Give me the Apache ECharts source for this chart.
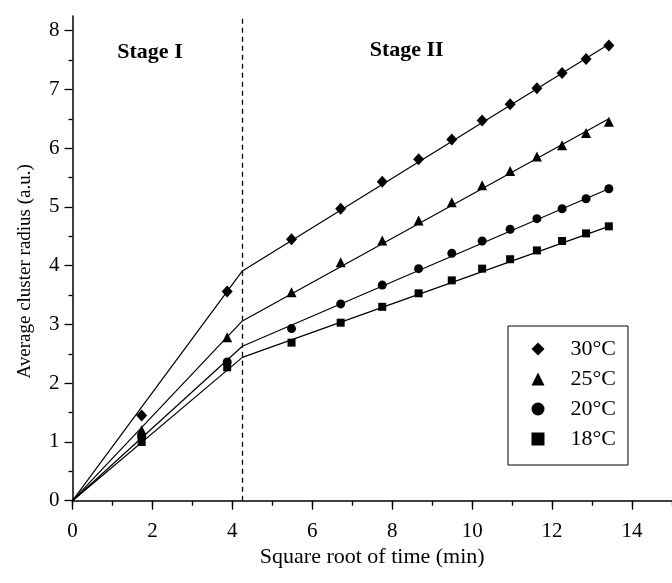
<!DOCTYPE html>
<html><head><meta charset="utf-8">
<script src="https://cdn.jsdelivr.net/npm/echarts@6/dist/echarts.min.js"></script>
<style>html,body{margin:0;padding:0;background:#fff}#c{width:672px;height:583px}</style>
</head><body><div id="c"></div>
<script>
// x = square root of time (min)
const timeRoot = [1.73, 3.87, 5.48, 6.71, 7.75, 8.66, 9.49, 10.25, 10.95, 11.62, 12.25, 12.85, 13.42];
const r30 = [1.45, 3.56, 4.45, 4.97, 5.43, 5.81, 6.15, 6.47, 6.75, 7.02, 7.28, 7.52, 7.75];
const r25 = [1.20, 2.78, 3.55, 4.06, 4.43, 4.77, 5.08, 5.37, 5.61, 5.86, 6.05, 6.26, 6.45];
const r20 = [1.09, 2.36, 2.93, 3.35, 3.67, 3.95, 4.21, 4.42, 4.62, 4.80, 4.97, 5.14, 5.31];
const r18 = [1.00, 2.27, 2.69, 3.03, 3.30, 3.53, 3.75, 3.95, 4.11, 4.26, 4.42, 4.55, 4.67];
// fitted piecewise lines (knots)
const fitX = [0, 4.25, 13.42];
const fit30 = [0, 3.91, 7.77];
const fit25 = [0, 3.06, 6.50];
const fit20 = [0, 2.63, 5.31];
const fit18 = [0, 2.44, 4.67];
const stageBoundary = 4.25;
const seriesNames = ['30°C', '25°C', '20°C', '18°C'];
const stageLabels = ['Stage I', 'Stage II'];
const yMajorTicks = [0, 1, 2, 3, 4, 5, 6, 7, 8];
const yMinorTicks = [0.5, 1.5, 2.5, 3.5, 4.5, 5.5, 6.5, 7.5];

const FONT = 'Liberation Serif';
const zip = (xs, ys) => xs.map((x, i) => [x, ys[i]]);

const chart = echarts.init(document.getElementById('c'), null, {renderer: 'canvas'});

const markers = [
  {sym: 'diamond', size: [11, 12], data: r30},
  {sym: 'triangle', size: [10, 10], data: r25},
  {sym: 'circle', size: 9, data: r20},
  {sym: 'rect', size: 8, data: r18}
];
const fits = [fit30, fit25, fit20, fit18];

const series = [];
fits.forEach((f, i) => {
  const s = {
    name: 'fit' + i, type: 'line', data: zip(fitX, f), showSymbol: false, symbol: 'none',
    lineStyle: {color: '#000', width: 1.2}, silent: true, z: 2
  };
  if (i === 0) {
    s.markLine = {
      symbol: 'none', silent: true, label: {show: false},
      lineStyle: {type: [5, 4], color: '#000', width: 1.3},
      data: [{xAxis: stageBoundary}]
    };
  }
  series.push(s);
});
markers.forEach((m, i) => {
  series.push({
    name: seriesNames[i], type: 'scatter', symbol: m.sym, symbolSize: m.size, symbolKeepAspect: true,
    data: zip(timeRoot, m.data), itemStyle: {color: '#000', opacity: 1}, z: 3
  });
});

const axisLine = {show: true, lineStyle: {color: '#000', width: 1.5}};
const labelStyle = {color: '#000', fontFamily: FONT, fontSize: 21};

chart.setOption({
  animation: false,
  backgroundColor: '#fff',
  grid: {left: 72.5, top: 16, width: 600, height: 484.7, containLabel: false},
  xAxis: [
    {type: 'value', min: 0, max: 15, interval: 2, position: 'bottom',
     axisLine: axisLine, splitLine: {show: false},
     axisTick: {show: true, inside: false, length: 9, lineStyle: {color: '#000', width: 1.3}},
     axisLabel: Object.assign({margin: 20, showMaxLabel: false}, labelStyle),
     name: 'Square root of time (min)', nameLocation: 'middle', nameGap: 36,
     nameTextStyle: {color: '#000', fontFamily: FONT, fontSize: 22}},
    {type: 'value', min: 0, max: 15, interval: 1, position: 'bottom',
     axisLine: {show: false}, splitLine: {show: false},
     axisTick: {show: true, inside: false, length: 5, lineStyle: {color: '#000', width: 1.3}},
     axisLabel: {show: false}}
  ],
  yAxis: [
    {type: 'value', min: 0, max: 8.25, interval: 1, position: 'left',
     axisLine: axisLine, splitLine: {show: false},
     axisTick: {show: true, inside: false, length: 8, customValues: yMajorTicks, lineStyle: {color: '#000', width: 1.3}},
     axisLabel: Object.assign({margin: 13, customValues: yMajorTicks}, labelStyle),
     name: 'Average cluster radius (a.u.)', nameLocation: 'middle', nameGap: 38,
     nameTextStyle: {color: '#000', fontFamily: FONT, fontSize: 19, padding: [0, 26, 0, 0]}},
    {type: 'value', min: 0, max: 8.25, position: 'left', offset: 0,
     axisLine: {show: false}, splitLine: {show: false},
     axisTick: {show: true, inside: false, length: 4, customValues: yMinorTicks, lineStyle: {color: '#000', width: 1.3}},
     axisLabel: {show: false}}
  ],
  legend: {
    data: seriesNames, orient: 'vertical', left: 508, top: 326,
    borderColor: '#000', borderWidth: 1, padding: [12, 12, 15, 23.5], itemGap: 8,
    itemWidth: 13, itemHeight: 13,
    textStyle: {color: '#000', fontFamily: FONT, fontSize: 22, padding: [0, 0, 0, 21]}
  },
  graphic: [
    {type: 'text', x: 150, y: 52.5, silent: true,
     style: {text: stageLabels[0], align: 'center', verticalAlign: 'middle',
             font: 'bold 22px "Liberation Serif"', fill: '#000'}},
    {type: 'text', x: 406.7, y: 50.5, silent: true,
     style: {text: stageLabels[1], align: 'center', verticalAlign: 'middle',
             font: 'bold 22px "Liberation Serif"', fill: '#000'}}
  ],
  series: series
});
</script>
</body></html>
